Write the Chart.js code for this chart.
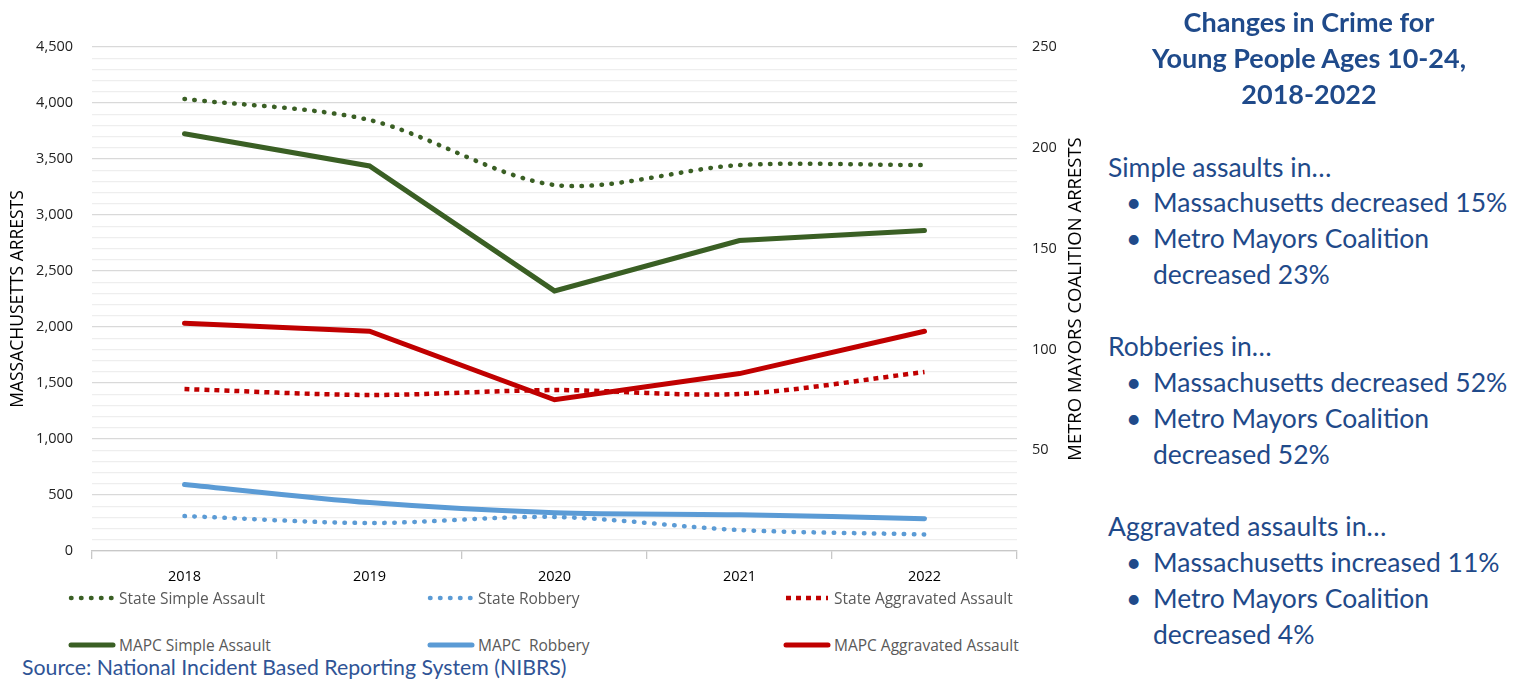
<!DOCTYPE html>
<html>
<head>
<meta charset="utf-8">
<script src="https://cdn.jsdelivr.net/npm/chart.js@4/dist/chart.umd.min.js"></script>
<style>
  body { margin: 0; background: #fff; width: 1528px; height: 679px; overflow: hidden; position: relative; font-family: Lato, sans-serif; }
  #wrap { position: absolute; left: 0; top: 0; width: 1095px; height: 590px; }
  .leg { position: absolute; font-family: "Open Sans", sans-serif; font-size: 15.5px; color: #595959; white-space: pre; line-height: 20px; }
  .leg svg { position: absolute; left: 0; top: 0; }
  .leg span { position: absolute; left: 51px; top: 0; }
  #side { position: absolute; left: 1080px; top: 0; width: 448px; color: #1F4A8A; }
  .t { position: absolute; left: 0; width: 458px; text-align: center; font-weight: 700; font-size: 27px; line-height: 36px; }
  .h { position: absolute; left: 28px; font-size: 26.5px; line-height: 36px; white-space: nowrap; }
  .b { position: absolute; left: 73px; font-size: 26.5px; line-height: 36px; white-space: nowrap; }
  .b.dot::before { content: "\2022"; position: absolute; left: -27px; }
  #src { position: absolute; left: 22px; top: 655px; font-size: 21.3px; color: #2F5496; line-height: 24px; }
</style>
</head>
<body>
<div id="wrap"><canvas id="crimeChart"></canvas></div>
<div id="legend"></div>
<div id="side">
  <div class="t" style="top:4px">Changes in Crime for</div>
  <div class="t" style="top:40px">Young People Ages 10-24,</div>
  <div class="t" style="top:76px">2018-2022</div>

  <div class="h" style="top:149px">Simple assaults in…</div>
  <div class="b dot" style="top:184px">Massachusetts decreased 15%</div>
  <div class="b dot" style="top:220px">Metro Mayors Coalition</div>
  <div class="b" style="top:256px">decreased 23%</div>

  <div class="h" style="top:328px">Robberies in…</div>
  <div class="b dot" style="top:364px">Massachusetts decreased 52%</div>
  <div class="b dot" style="top:400px">Metro Mayors Coalition</div>
  <div class="b" style="top:436px">decreased 52%</div>

  <div class="h" style="top:508px">Aggravated assaults in…</div>
  <div class="b dot" style="top:544px">Massachusetts increased 11%</div>
  <div class="b dot" style="top:580px">Metro Mayors Coalition</div>
  <div class="b" style="top:616px">decreased 4%</div>
</div>
<div id="src">Source: National Incident Based Reporting System (NIBRS)</div>

<script>
const years = ['2018', '2019', '2020', '2021', '2022'];

// Massachusetts (left axis)
const stateSimpleAssault = [4036, 3848, 3268, 3446, 3446];
const stateRobbery = [312, 250, 304, 187, 148];
const stateAggAssault = [1446, 1393, 1437, 1402, 1598];

// Metro Mayors Coalition (right axis)
const mapcSimpleAssault = [207, 191, 129, 154, 159];
const mapcRobbery = [33, 24, 19, 18, 16];
const mapcAggAssault = [113, 109, 75, 88, 109];

const green = '#3A5F24';
const blue = '#5B9BD5';
const red = '#C00000';

// right axis title reads bottom-to-top in the original, so draw it by hand
const rightTitle = {
    id: 'rightTitle',
    afterDraw(chart) {
        const c = chart.ctx;
        const area = chart.chartArea;
        c.save();
        c.translate(1076, (area.top + area.bottom) / 2);
        c.rotate(-Math.PI / 2);
        c.font = '18.5px "Open Sans"';
        c.fillStyle = '#000';
        c.textAlign = 'center';
        c.textBaseline = 'middle';
        c.fillText('METRO MAYORS COALITION ARRESTS', 0, 0);
        c.restore();
    }
};

const ctx = document.getElementById('crimeChart').getContext('2d');

const chart = new Chart(ctx, {
    type: 'line',
    data: {
        labels: years,
        datasets: [
            {label: 'State Simple Assault', data: stateSimpleAssault, yAxisID: 'y', borderColor: green,
             borderWidth: 4.5, borderDash: [0.5, 9.5], borderCapStyle: 'round', tension: 0.3},
            {label: 'State Robbery', data: stateRobbery, yAxisID: 'y', borderColor: blue,
             borderWidth: 4.5, borderDash: [0.5, 9.5], borderCapStyle: 'round', tension: 0.3},
            {label: 'State Aggravated Assault', data: stateAggAssault, yAxisID: 'y', borderColor: red,
             borderWidth: 4.5, borderDash: [5, 5], borderCapStyle: 'butt', tension: 0.3},
            {label: 'MAPC Simple Assault', data: mapcSimpleAssault, yAxisID: 'y2', borderColor: green,
             borderWidth: 5, tension: 0, borderCapStyle: 'round'},
            {label: 'MAPC  Robbery', data: mapcRobbery, yAxisID: 'y2', borderColor: blue,
             borderWidth: 5, tension: 0.3, borderCapStyle: 'round'},
            {label: 'MAPC Aggravated Assault', data: mapcAggAssault, yAxisID: 'y2', borderColor: red,
             borderWidth: 5, tension: 0, borderCapStyle: 'round'}
        ]
    },
    options: {
        responsive: true,
        maintainAspectRatio: false,
        animation: false,
        layout: {padding: {top: 47, bottom: 0, left: 0, right: 0}},
        elements: {point: {radius: 0}},
        plugins: {
            legend: {display: false},
            tooltip: {enabled: false}
        },
        scales: {
            x: {
                offset: true,
                grid: {offset: true, drawOnChartArea: false, drawTicks: true, tickLength: 8, color: '#c8c8c8', lineWidth: 1.3},
                border: {color: '#c8c8c8', width: 1.3},
                ticks: {color: '#000', padding: 9, font: {family: 'Open Sans', size: 14.5}},
                afterFit: (scale) => { scale.height = 39; }
            },
            y: {
                position: 'left',
                min: 0,
                max: 4500,
                grid: {
                    drawTicks: false,
                    lineWidth: 1.3,
                    color: (c) => (c.tick && c.tick.value % 500 === 0) ? '#d9d9d9' : '#eeeeee'
                },
                border: {display: false},
                ticks: {
                    stepSize: 100,
                    autoSkip: false,
                    padding: 19,
                    color: '#222',
                    font: {family: 'Open Sans', size: 14.5},
                    callback: (v) => v % 500 === 0 ? v.toLocaleString('en-US') : ''
                },
                title: {display: true, text: 'MASSACHUSETTS ARRESTS', color: '#000',
                        font: {family: 'Open Sans', size: 17.5}, padding: {top: 8, bottom: 0}},
                afterFit: (scale) => { scale.width = 92; }
            },
            y2: {
                position: 'right',
                min: 0,
                max: 250,
                grid: {drawOnChartArea: false, drawTicks: false},
                border: {display: false},
                ticks: {
                    stepSize: 50,
                    padding: 15,
                    color: '#222',
                    font: {family: 'Open Sans', size: 14.5},
                    callback: (v) => v === 0 ? '' : v
                },
                afterFit: (scale) => { scale.width = 78; }
            }
        }
    },
    plugins: [rightTitle]
});

// legend laid out in 3 columns x 2 rows, like the original
const legendCols = [68, 427, 783];
const legendRows = [588, 635];
const legendEl = document.getElementById('legend');
chart.data.datasets.forEach((ds, i) => {
    const item = document.createElement('div');
    item.className = 'leg';
    item.style.left = legendCols[i % 3] + 'px';
    item.style.top = legendRows[Math.floor(i / 3)] + 'px';
    const dash = ds.borderDash ? ds.borderDash.join(' ') : 'none';
    const cap = ds.borderCapStyle || 'butt';
    item.innerHTML =
        `<svg width="48" height="20"><line x1="3" y1="10" x2="45" y2="10" stroke="${ds.borderColor}"
          stroke-width="${ds.borderWidth}" stroke-dasharray="${dash}" stroke-linecap="${cap}"/></svg>` +
        `<span>${ds.label}</span>`;
    legendEl.appendChild(item);
});
</script>
</body>
</html>
